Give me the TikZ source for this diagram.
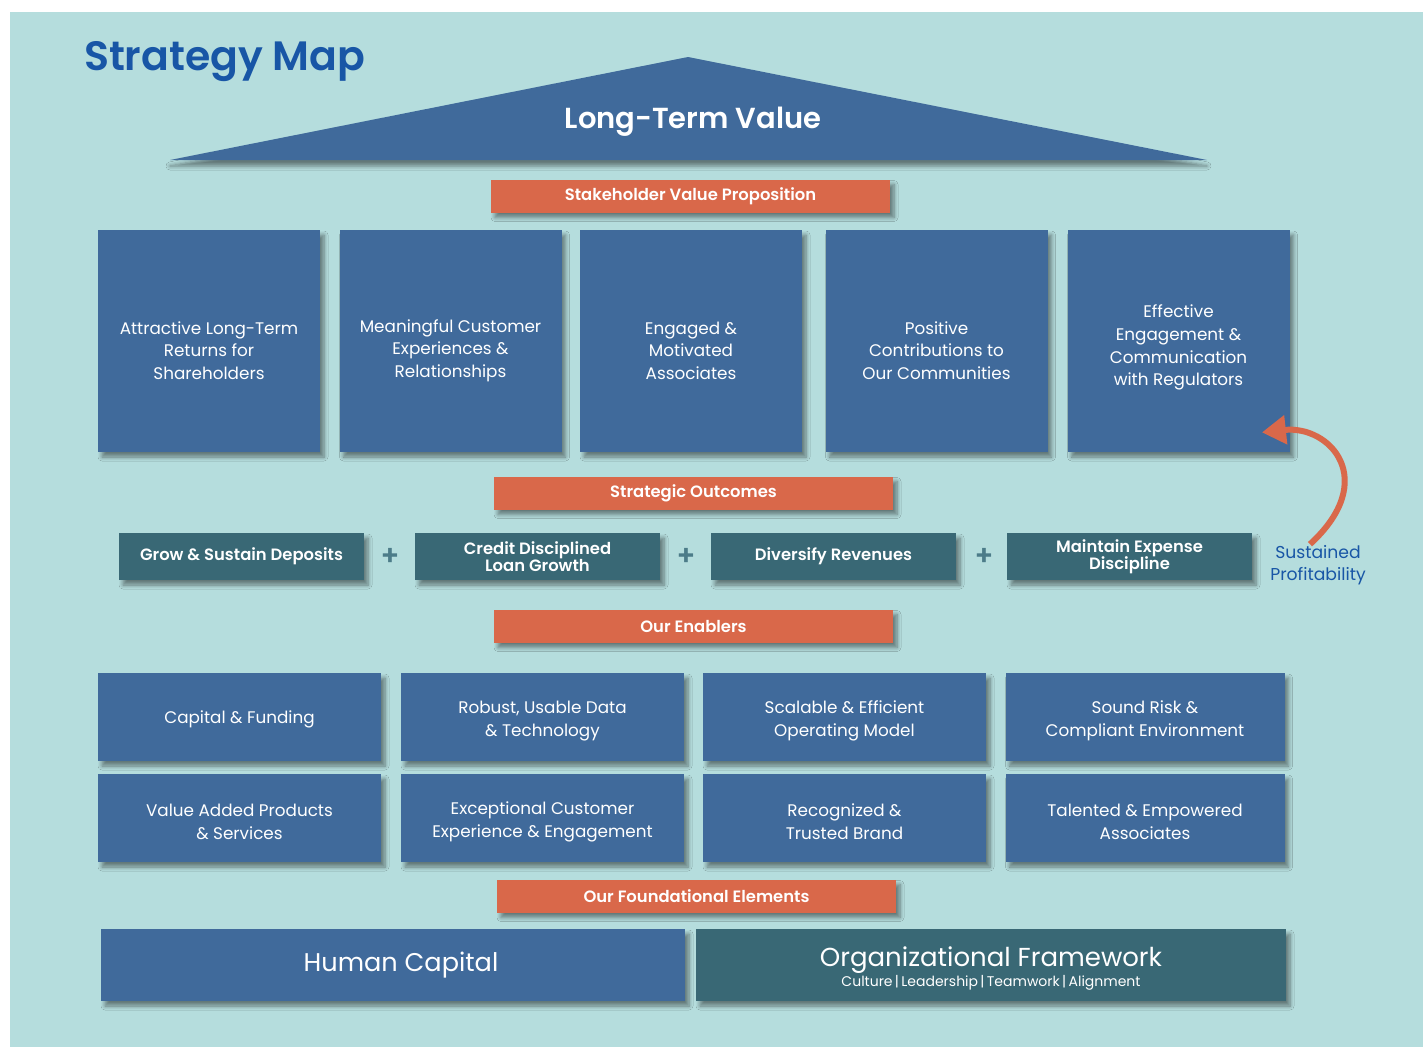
\documentclass[tikz,border=0pt]{standalone}
\usepackage{fontspec}
\setmainfont{Poppins}[BoldFont={Poppins SemiBold}]
\usetikzlibrary{shadows.blur,arrows.meta}
\definecolor{paper}{RGB}{181,221,221}
\definecolor{boxblue}{RGB}{64,106,155}
\definecolor{boxteal}{RGB}{57,104,117}
\definecolor{bandred}{RGB}{217,104,74}
\definecolor{titleblue}{RGB}{24,86,166}
\definecolor{plusteal}{RGB}{76,124,137}
\newcommand{\toppad}[1]{\rule{0pt}{#1}}

\begin{document}
\begin{tikzpicture}[x=0.5pt,y=-0.5pt,
    shade/.style={blur shadow={shadow xshift=2pt,shadow yshift=-2.5pt,shadow blur radius=2pt,shadow blur steps=6,shadow opacity=45}},
    valuebox/.style={fill=boxblue,shade,text=white,align=center,inner sep=0pt,
        minimum width=111pt,minimum height=111pt,font=\fontsize{8.4}{11.3}\selectfont},
    outcome/.style={fill=boxteal,shade,text=white,align=center,inner sep=0pt,
        minimum width=122.5pt,minimum height=23.5pt,font=\bfseries\fontsize{8.2}{8.6}\selectfont},
    enabler/.style={fill=boxblue,shade,text=white,align=center,inner sep=0pt,
        minimum width=141.5pt,minimum height=44pt,font=\fontsize{8.4}{11.3}\selectfont},
    band/.style={fill=bandred,shade,text=white,inner sep=0pt,
        minimum width=199.5pt,minimum height=16.5pt,font=\bfseries\fontsize{8.2}{9}\selectfont},
    plus/.style={text=plusteal,font=\bfseries\fontsize{14}{14}\selectfont},
    arr/.style={-{Triangle[length=12pt,width=14pt]},line width=3pt,draw=bandred}]
    \fill[white] (0,0) rectangle (1423,1049);
    \fill[paper] (10,12) rectangle (1423,1047);
    \node[anchor=base west,text=titleblue,font=\bfseries\fontsize{20.5}{21}\selectfont] (title) at (77,70) {Strategy Map};
    % roof
    \fill[boxblue,blur shadow={shadow xshift=0pt,shadow yshift=-3pt,shadow blur radius=2pt,shadow opacity=45}] (170,160) -- (688,57) -- (1207,160) -- cycle;
    \node[text=white,font=\bfseries\fontsize{14.5}{15}\selectfont] (ltv) at (693,122) {Long-Term Value};
    \node[band] (svp) at (690.5,196) {Stakeholder Value Proposition};
    \node[valuebox] (val1) at (209,341) {\toppad{16pt}Attractive Long-Term\\Returns for\\Shareholders};
    \node[valuebox] (val2) at (450.5,341) {\toppad{16pt}Meaningful Customer\\Experiences \&\\Relationships};
    \node[valuebox] (val3) at (691,341) {\toppad{16pt}Engaged \&\\Motivated\\Associates};
    \node[valuebox] (val4) at (936.5,341) {\toppad{16pt}Positive\\Contributions to\\Our Communities};
    \node[valuebox] (val5) at (1178.5,341) {\toppad{13pt}Effective\\Engagement \&\\Communication\\with Regulators};
    \node[band] (so) at (693.5,493) {Strategic Outcomes};
    \node[outcome] (out1) at (241.5,556.5) {Grow \& Sustain Deposits};
    \node[outcome] (out2) at (537.5,556.5) {Credit Disciplined\\Loan Growth};
    \node[outcome] (out3) at (833.5,556.5) {Diversify Revenues};
    \node[outcome] (out4) at (1129.5,556.5) {Maintain Expense\\Discipline};
    \node[plus] (p1) at (390,557) {+};
    \node[plus] (p2) at (686,557) {+};
    \node[plus] (p3) at (984,557) {+};
    \node[text=titleblue,align=center,font=\fontsize{8.6}{11}\selectfont] (sust) at (1318,565) {Sustained\\Profitability};
    \draw[arr] ([xshift=-4pt,yshift=-3pt]sust.north) .. controls (1380,480) and (1330,425) .. ([xshift=-14pt,yshift=10pt]val5.south east);
    \node[band] (oe) at (693.5,626) {Our Enablers};
    \node[enabler] (en1) at (239.5,717) {\toppad{9pt}Capital \& Funding};
    \node[enabler] (en2) at (542.5,717) {\toppad{10pt}Robust, Usable Data\\\& Technology};
    \node[enabler] (en3) at (844.5,717) {\toppad{10pt}Scalable \& Efficient\\Operating Model};
    \node[enabler,minimum width=139.5pt] (en4) at (1145,717) {\toppad{10pt}Sound Risk \&\\Compliant Environment};
    \node[enabler] (en5) at (239.5,818) {\toppad{10pt}Value Added Products\\\& Services};
    \node[enabler] (en6) at (542.5,818) {\toppad{10pt}Exceptional Customer\\Experience \& Engagement};
    \node[enabler] (en7) at (844.5,818) {\toppad{10pt}Recognized \&\\Trusted Brand};
    \node[enabler,minimum width=139.5pt] (en8) at (1145,818) {\toppad{10pt}Talented \& Empowered\\Associates};
    \node[band] (ofe) at (696.5,896) {Our Foundational Elements};
    \node[fill=boxblue,shade,text=white,inner sep=0pt,minimum width=292pt,minimum height=36pt,
        font=\fontsize{12.8}{14}\selectfont] (hc) at (393,965) {\hspace*{8pt}Human Capital};
    \node[fill=boxteal,shade,text=white,align=center,inner sep=0pt,minimum width=295pt,minimum height=36pt,
        font=\fontsize{13}{9}\selectfont] (of) at (991,965) {\toppad{13pt}Organizational Framework\\{\fontsize{7}{8}\selectfont Culture\,|\,Leadership\,|\,Teamwork\,|\,Alignment}};
\end{tikzpicture}
\end{document}
